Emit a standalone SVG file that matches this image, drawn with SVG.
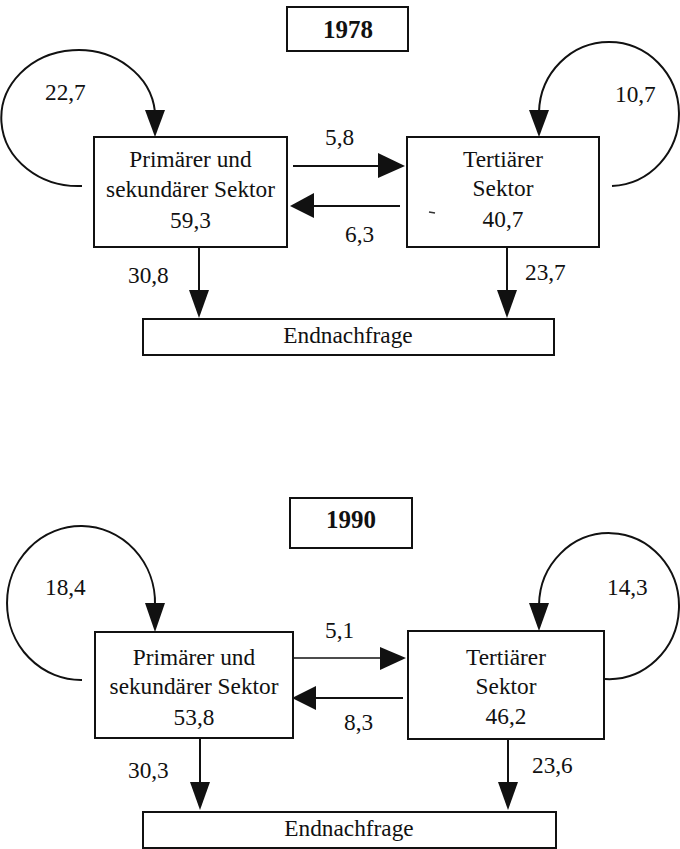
<svg xmlns="http://www.w3.org/2000/svg" width="680" height="849" viewBox="0 0 680 849">
<style>
.box{fill:#fff;stroke:#111;stroke-width:2}
.ln{fill:none;stroke:#111;stroke-width:2}
.hd{fill:#111;stroke:none}
.t{font-family:'Liberation Serif','DejaVu Serif','Times New Roman',serif;font-size:23.3px;fill:#111}
.c{text-anchor:middle}
.yr{font-weight:bold;font-size:25px}
</style>
<rect width="680" height="849" fill="#fff"/>
<g class="t" font-family="Liberation Serif, DejaVu Serif, serif">

<g id="year1978"><rect class="box" x="287" y="7" width="121" height="44"/><text class="c yr" x="348" y="38">1978</text></g>
<g id="ps1978"><rect class="box" x="94" y="137" width="193" height="110"/>
<text class="c" x="190.5" y="167">Primärer und</text><text class="c" x="190.5" y="197">sekundärer Sektor</text><text class="c" x="190.5" y="228">59,3</text></g>
<g id="ts1978"><rect class="box" x="407" y="137" width="192" height="110"/>
<text class="c" x="503" y="167">Tertiärer</text><text class="c" x="503" y="196">Sektor</text><text class="c" x="503" y="227">40,7</text>
<line x1="429" y1="212" x2="435" y2="213" stroke="#333" stroke-width="1.5"/></g>
<g id="end1978"><rect class="box" x="143" y="319" width="411" height="36"/><text class="c" x="348" y="343">Endnachfrage</text></g>

<g id="edges1978">
<path class="ln" d="M82 186 A77 68 0 1 1 155 112"/><polygon class="hd" points="145,110 165,110 155,137"/>
<path class="ln" d="M612 186 A70 72 0 1 0 539 112"/><polygon class="hd" points="529,110 549,110 539,137"/>
<line class="ln" x1="293" y1="166" x2="380" y2="166"/><polygon class="hd" points="378,153 378,178 405,166"/>
<line class="ln" x1="400" y1="206" x2="312" y2="206"/><polygon class="hd" points="290,206 314,193 314,218"/>
<line class="ln" x1="199" y1="247" x2="199" y2="292"/><polygon class="hd" points="189,290 209,290 199,318"/>
<line class="ln" x1="507" y1="247" x2="507" y2="292"/><polygon class="hd" points="497,290 517,290 507,318"/>
</g>
<g id="labels1978">
<text x="45" y="100">22,7</text><text x="615" y="102">10,7</text>
<text x="325" y="145">5,8</text><text x="345" y="242">6,3</text>
<text x="128" y="283">30,8</text><text x="525" y="280">23,7</text>
</g>

<g id="year1990"><rect class="box" x="290" y="498" width="122" height="50"/><text class="c yr" x="351" y="528">1990</text></g>
<g id="ps1990"><rect class="box" x="95" y="632" width="198" height="106"/>
<text class="c" x="194" y="665">Primärer und</text><text class="c" x="194" y="694">sekundärer Sektor</text><text class="c" x="194" y="725">53,8</text></g>
<g id="ts1990"><rect class="box" x="408" y="631" width="196" height="108"/>
<text class="c" x="506" y="665">Tertiärer</text><text class="c" x="506" y="694">Sektor</text><text class="c" x="506" y="724">46,2</text></g>
<g id="end1990"><rect class="box" x="143" y="812" width="413" height="36"/><text class="c" x="349" y="836">Endnachfrage</text></g>

<g id="edges1990">
<path class="ln" d="M82 680 A74 77 0 1 1 155 605"/><polygon class="hd" points="145,603 165,603 155,632"/>
<path class="ln" d="M605 679 A70 73 0 1 0 539 605"/><polygon class="hd" points="529,603 549,603 539,631"/>
<line class="ln" x1="294" y1="658" x2="382" y2="658" style="stroke-width:1.6"/><polygon class="hd" points="380,647 380,670 406,658"/>
<line class="ln" x1="403" y1="698" x2="313" y2="698"/><polygon class="hd" points="292,698 316,686 316,710"/>
<line class="ln" x1="200" y1="739" x2="200" y2="784"/><polygon class="hd" points="190,782 210,782 200,810"/>
<line class="ln" x1="508" y1="739" x2="508" y2="784"/><polygon class="hd" points="498,782 518,782 508,810"/>
</g>
<g id="labels1990">
<text x="45" y="595">18,4</text><text x="607" y="595">14,3</text>
<text x="325" y="638">5,1</text><text x="344" y="730">8,3</text>
<text x="128" y="778">30,3</text><text x="532" y="773">23,6</text>
</g>
</g>
</svg>
